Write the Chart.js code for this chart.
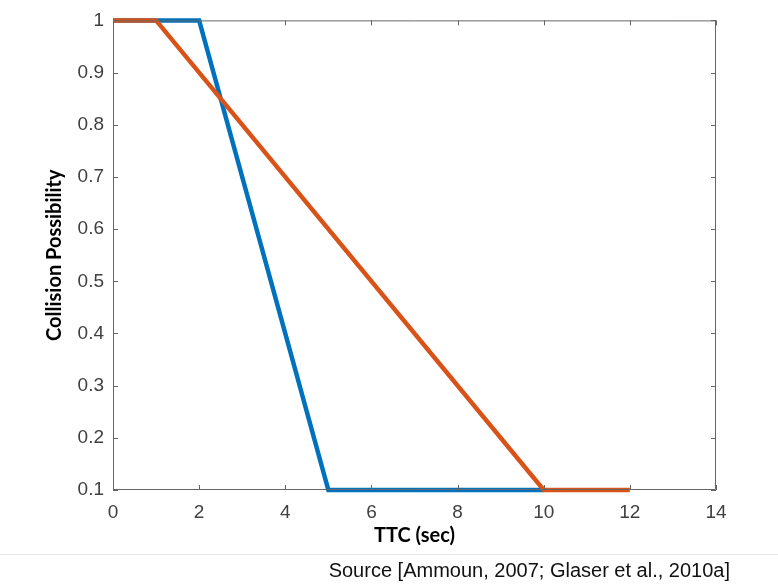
<!DOCTYPE html>
<html>
<head>
<meta charset="utf-8">
<script src="https://cdn.jsdelivr.net/npm/chart.js@4"></script>
<style>
  html, body { margin: 0; padding: 0; background: #fff; }
  .wrap { position: relative; width: 778px; height: 587px; }
  #chart { position: absolute; left: 0; top: 0; }
  .rule { position: absolute; left: 0; top: 554px; width: 778px; height: 1px; background: #e6e6e6; }
  .source { position: absolute; right: 48px; top: 559px; font: 20px "Liberation Sans", Arial, sans-serif; color: #111; white-space: nowrap; }
</style>
</head>
<body>
<div class="wrap">
  <canvas id="chart" width="778" height="587"></canvas>
  <div class="rule"></div>
  <div class="source">Source [Ammoun, 2007; Glaser et al., 2010a]</div>
</div>
<script>
// series: [TTC, possibility]
const blueTTC = [0, 2, 5, 10];
const blueVal = [1, 1, 0.1, 0.1];
const orangeTTC = [0, 1, 10, 12];
const orangeVal = [1, 1, 0.1, 0.1];

const xTicks = [0, 2, 4, 6, 8, 10, 12, 14];
const yTicks = [0.1, 0.2, 0.3, 0.4, 0.5, 0.6, 0.7, 0.8, 0.9, 1];

const axisColor = '#666666';
const tickColor = '#404040';

function toPoints(xs, ys) {
    return xs.map((x, i) => ({ x: x, y: ys[i] }));
}

// box around the plot with inward ticks on every side (matlab style)
const boxPlugin = {
    id: 'box',
    afterDraw(chart) {
        const { ctx, chartArea: a, scales } = chart;
        const len = 5;
        ctx.save();
        ctx.strokeStyle = axisColor;
        ctx.lineWidth = 1;
        ctx.beginPath();
        ctx.rect(a.left + 0.5, a.top + 0.5, a.right - a.left - 1, a.bottom - a.top - 1);
        xTicks.forEach(v => {
            const px = Math.round(scales.x.getPixelForValue(v)) + 0.5;
            ctx.moveTo(px, a.bottom);
            ctx.lineTo(px, a.bottom - len);
            ctx.moveTo(px, a.top);
            ctx.lineTo(px, a.top + len);
        });
        yTicks.forEach(v => {
            const py = Math.round(scales.y.getPixelForValue(v)) + 0.5;
            ctx.moveTo(a.left, py);
            ctx.lineTo(a.left + len, py);
            ctx.moveTo(a.right, py);
            ctx.lineTo(a.right - len, py);
        });
        ctx.stroke();
        ctx.restore();
    }
};

const ctx = document.getElementById('chart').getContext('2d');
new Chart(ctx, {
    type: 'line',
    data: {
        datasets: [
            {
                data: toPoints(orangeTTC, orangeVal),
                borderColor: '#D95319',
                borderWidth: 4.5,
                pointRadius: 0,
                tension: 0,
                clip: false,
                order: 0
            },
            {
                data: toPoints(blueTTC, blueVal),
                borderColor: '#0072BD',
                borderWidth: 4.5,
                pointRadius: 0,
                tension: 0,
                clip: false,
                order: 1
            }
        ]
    },
    options: {
        responsive: false,
        animation: false,
        layout: { padding: { top: 13, right: 62, bottom: 37, left: 43 } },
        plugins: {
            legend: { display: false },
            tooltip: { enabled: false }
        },
        scales: {
            x: {
                type: 'linear',
                min: 0,
                max: 14,
                afterBuildTicks: s => { s.ticks = xTicks.map(v => ({ value: v })); },
                afterFit: s => { s.height = 60; },
                grid: { display: false, drawTicks: false },
                border: { display: false },
                ticks: {
                    padding: 11,
                    color: tickColor,
                    font: { family: '"Liberation Sans", Arial, sans-serif', size: 19 }
                },
                title: {
                    display: true,
                    text: 'TTC (sec)',
                    color: '#000',
                    font: { family: 'Lato, "Open Sans", sans-serif', size: 20, weight: 'bold' },
                    padding: { top: 0, bottom: 2 }
                }
            },
            y: {
                type: 'linear',
                min: 0.1,
                max: 1,
                afterBuildTicks: s => { s.ticks = yTicks.map(v => ({ value: v })); },
                afterFit: s => { s.width = 70; },
                grid: { display: false, drawTicks: false },
                border: { display: false },
                ticks: {
                    padding: 9,
                    color: tickColor,
                    font: { family: '"Liberation Sans", Arial, sans-serif', size: 19 },
                    callback: v => String(Math.round(v * 10) / 10)
                },
                title: {
                    display: true,
                    text: 'Collision Possibility',
                    color: '#000',
                    font: { family: 'Lato, "Open Sans", sans-serif', size: 20, weight: 'bold' },
                    padding: { top: 0, bottom: 0 }
                }
            }
        }
    },
    plugins: [boxPlugin]
});
</script>
</body>
</html>
